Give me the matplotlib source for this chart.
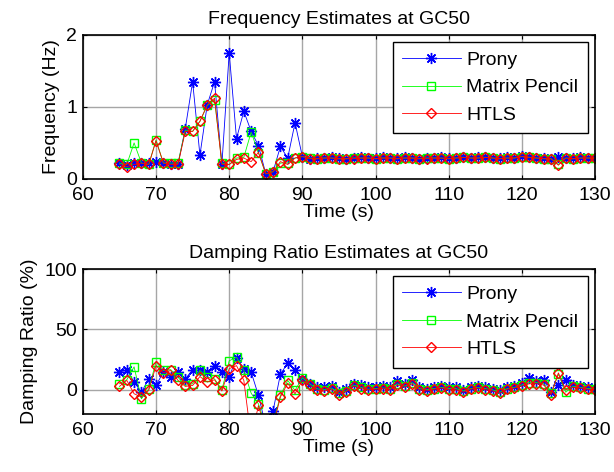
import numpy as np
import matplotlib
matplotlib.use("Agg")
import matplotlib.pyplot as plt

plt.rcParams['font.family'] = ['Liberation Sans', 'DejaVu Sans']
plt.rcParams['font.size'] = 14

# time axis (s)
time = list(range(65, 131))

# frequency estimates (Hz)
freq_prony = [0.22, 0.19, 0.22, 0.22, 0.22, 0.24, 0.22, 0.20, 0.20, 0.70, 1.35, 0.33, 1.03,
              1.35, 0.20, 1.75, 0.56, 0.94, 0.66, 0.46, 0.07, 0.10, 0.45, 0.29, 0.78, 0.31,
              0.28, 0.29, 0.29, 0.30, 0.29, 0.28, 0.29, 0.30, 0.29, 0.29,
              0.30, 0.29, 0.29, 0.30, 0.29, 0.28, 0.29, 0.29, 0.30, 0.29,
              0.29, 0.30, 0.29, 0.30, 0.31, 0.29, 0.29, 0.30, 0.29, 0.32,
              0.30, 0.29, 0.29, 0.28, 0.30, 0.29, 0.29, 0.30, 0.29, 0.29]
freq_mp = [0.22, 0.20, 0.50, 0.22, 0.20, 0.54, 0.22, 0.22, 0.22, 0.68, 0.66, 0.80, 1.02,
           1.10, 0.22, 0.20, 0.29, 0.30, 0.65, 0.36, 0.07, 0.10, 0.22, 0.22, 0.29, 0.31,
           0.29, 0.28, 0.29, 0.29, 0.28, 0.28, 0.29, 0.29, 0.29, 0.28,
           0.29, 0.29, 0.28, 0.29, 0.29, 0.28, 0.29, 0.29, 0.29, 0.28,
           0.29, 0.30, 0.29, 0.29, 0.30, 0.29, 0.28, 0.29, 0.29, 0.31,
           0.30, 0.29, 0.28, 0.28, 0.20, 0.29, 0.28, 0.29, 0.29, 0.29]
freq_htls = [0.20, 0.17, 0.20, 0.22, 0.20, 0.53, 0.22, 0.20, 0.20, 0.66, 0.66, 0.80, 1.03,
             1.12, 0.20, 0.20, 0.27, 0.29, 0.24, 0.37, 0.07, 0.10, 0.24, 0.20, 0.29, 0.31,
             0.28, 0.28, 0.29, 0.29, 0.28, 0.28, 0.28, 0.29, 0.29, 0.28,
             0.29, 0.29, 0.28, 0.29, 0.29, 0.28, 0.28, 0.29, 0.29, 0.28,
             0.29, 0.30, 0.29, 0.29, 0.30, 0.29, 0.28, 0.29, 0.29, 0.31,
             0.30, 0.29, 0.28, 0.28, 0.19, 0.29, 0.28, 0.29, 0.29, 0.29]

# damping ratio estimates (%)
damp_prony = [14.7, 16.7, 6.4, -2.0, 9.0, 3.6, 14.7, 10.5, 14.7, 9.0, 16.7, 16.0, 14.7,
              20.0, 15.0, 10.5, 26.7, 17.5, 14.7, -4.7, -30.0, -17.5, 13.0, 22.0, 16.0, 9.0,
              5.0, 2.2, 2.0, 2.8, -2.0, 0.8, 5.0, 3.6, 2.0, 2.0,
              3.0, 2.0, 7.0, 5.0, 8.0, 2.0, 1.0, 2.0, 3.0, 2.0,
              2.0, 0.0, 2.0, 3.0, 2.0, 1.0, 0.0, 2.0, 3.0, 6.0,
              10.0, 7.0, 8.0, -2.0, 3.6, 7.8, 4.0, 3.0, 2.0, 1.0]
damp_mp = [5.0, 8.3, 19.0, -7.5, 0.8, 23.0, 16.0, 16.7, 10.5, 3.6, 5.0, 16.0, 10.5,
           9.0, 0.0, 24.0, 27.0, 16.0, -2.8, -11.7, -30.0, -28.0, -4.7, 7.8, -0.5, 10.0,
           5.0, 0.8, 0.0, 1.5, -3.0, -1.0, 4.0, 2.0, 0.5, 1.0,
           1.5, 1.0, 5.0, 3.0, 6.0, 1.0, 0.0, 1.0, 2.0, 1.0,
           1.0, -1.0, 1.0, 2.0, 1.0, 0.0, -2.0, 1.0, 2.0, 4.0,
           6.0, 6.0, 5.0, -3.0, 13.0, -2.0, 3.0, 2.0, 1.0, 1.0]
damp_htls = [2.8, 7.8, -3.3, -6.0, -0.5, 20.0, 14.0, 16.0, 7.8, 2.8, 3.6, 11.0, 6.4,
             8.3, -1.0, 17.5, 20.0, 7.8, -40.0, -13.0, -35.0, -30.0, -6.0, 5.5, -3.3, 7.8,
             3.6, -0.5, -1.0, 0.5, -4.0, -1.5, 3.0, 1.0, 0.0, 0.5,
             1.0, 0.0, 4.0, 2.0, 5.0, 0.0, -1.0, 0.5, 1.5, 0.0,
             0.0, -2.0, 0.5, 1.5, 0.0, -1.0, -3.0, 0.5, 1.5, 3.0,
             5.0, 5.0, 4.0, -4.0, 14.0, 0.0, 2.0, 1.5, 0.5, 0.0]

labels = ['Prony', 'Matrix Pencil', 'HTLS']
colors = ['#0000ff', '#00ff00', '#ff0000']
markers = [(8, 2, 0), 's', 'D']
msizes = [8, 6, 5.5]

fig = plt.figure(figsize=(6.14, 4.72), dpi=100)
ax1 = fig.add_axes([0.135, 0.621, 0.834, 0.305])
ax2 = fig.add_axes([0.135, 0.123, 0.834, 0.307])


def draw(ax, series, title, ylabel, ylim, yticks):
    for s, lab, c, m, ms in zip(series, labels, colors, markers, msizes):
        ax.plot(time, s, '-', color=c, marker=m, ms=ms, mfc='none', mec=c,
                mew=1.0, lw=0.6, label=lab)
    ax.set_xlim(60, 130)
    ax.set_ylim(*ylim)
    ax.set_xticks(range(60, 131, 10))
    ax.set_yticks(yticks)
    ax.grid(True, color='0.65', lw=1, ls='-')
    ax.set_axisbelow(True)
    ax.tick_params(direction='in', top=True, right=True, length=3)
    ax.tick_params(axis='x', pad=6)
    ax.tick_params(axis='y', pad=4)
    for sp in ax.spines.values():
        sp.set_linewidth(1.2)
    ax.set_title(title, fontsize=14, pad=8)
    ax.set_xlabel('Time (s)', labelpad=0)
    ax.set_ylabel(ylabel, labelpad=5)
    leg = ax.legend(loc='upper right', fancybox=False, framealpha=1,
                    edgecolor='black', handlelength=3.0, borderaxespad=0.35,
                    labelspacing=0.5, handletextpad=0.3, borderpad=0.5)
    leg.get_frame().set_linewidth(1.0)


draw(ax1, [freq_prony, freq_mp, freq_htls], 'Frequency Estimates at GC50',
     'Frequency (Hz)', (0, 2), [0, 1, 2])
draw(ax2, [damp_prony, damp_mp, damp_htls], 'Damping Ratio Estimates at GC50',
     'Damping Ratio (%)', (-20, 100), [0, 50, 100])

fig.savefig('out.png', dpi=100)
